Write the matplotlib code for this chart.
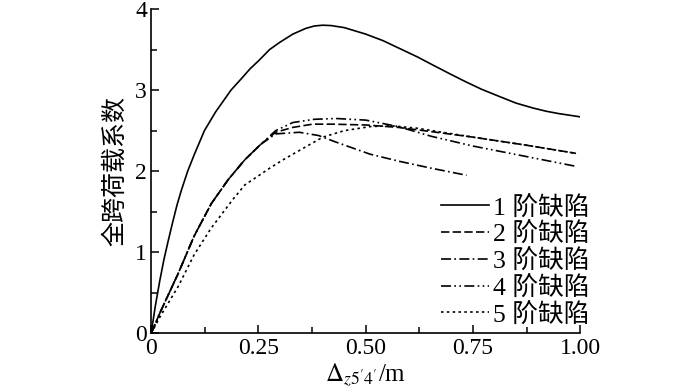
import matplotlib
matplotlib.use('Agg')
import matplotlib.pyplot as plt
from matplotlib.ticker import MultipleLocator

# data
x1 = [0, 0.005, 0.01, 0.02, 0.03, 0.04, 0.05, 0.06, 0.07, 0.085, 0.10, 0.124, 0.15, 0.17, 0.186, 0.21, 0.23,
      0.25, 0.276, 0.30, 0.33, 0.36, 0.38, 0.40, 0.42, 0.45, 0.50, 0.54, 0.58, 0.62, 0.656, 0.70, 0.734,
      0.77, 0.812, 0.85, 0.889, 0.92, 0.95, 0.975, 1.0]
y1 = [0, 0.18, 0.35, 0.65, 0.92, 1.15, 1.37, 1.58, 1.76, 2.0, 2.2, 2.5, 2.73, 2.88, 3.0, 3.14, 3.26,
      3.36, 3.5, 3.59, 3.69, 3.76, 3.79, 3.80, 3.795, 3.77, 3.69, 3.61, 3.51, 3.41, 3.31, 3.19, 3.10,
      3.01, 2.92, 2.84, 2.78, 2.74, 2.71, 2.69, 2.67]

x2 = [0, 0.02, 0.063, 0.10, 0.14, 0.18, 0.218, 0.255, 0.29, 0.33, 0.376, 0.42, 0.50, 0.576, 0.65, 0.75, 0.875, 0.99]
y2 = [0, 0.25, 0.74, 1.2, 1.6, 1.9, 2.14, 2.33, 2.48, 2.54, 2.58, 2.58, 2.57, 2.54, 2.49, 2.42, 2.32, 2.22]

x3 = [0, 0.02, 0.063, 0.10, 0.14, 0.18, 0.218, 0.255, 0.29, 0.345, 0.39, 0.43, 0.51, 0.58, 0.65, 0.735]
y3 = [0, 0.25, 0.74, 1.2, 1.6, 1.9, 2.14, 2.33, 2.46, 2.48, 2.44, 2.36, 2.21, 2.12, 2.04, 1.95]

x4 = [0, 0.02, 0.063, 0.10, 0.14, 0.18, 0.218, 0.255, 0.29, 0.33, 0.38, 0.43, 0.50, 0.576, 0.653, 0.75, 0.875, 0.99]
y4 = [0, 0.25, 0.74, 1.2, 1.6, 1.9, 2.14, 2.33, 2.50, 2.60, 2.64, 2.65, 2.63, 2.55, 2.43, 2.31, 2.18, 2.06]

x5 = [0, 0.02, 0.063, 0.10, 0.14, 0.19, 0.218, 0.277, 0.307, 0.36, 0.40, 0.45, 0.51, 0.56, 0.62, 0.75, 0.875, 0.99]
y5 = [0, 0.2, 0.58, 0.97, 1.30, 1.65, 1.83, 2.04, 2.14, 2.30, 2.42, 2.50, 2.55, 2.56, 2.53, 2.42, 2.32, 2.22]

labels = ['1 阶缺陷', '2 阶缺陷', '3 阶缺陷', '4 阶缺陷', '5 阶缺陷']

plt.rcParams['font.family'] = ['Liberation Serif', 'Noto Sans CJK SC']
plt.rcParams['mathtext.fontset'] = 'stix'

fig = plt.figure(figsize=(7, 3.9), dpi=100)
ax = fig.add_axes([0.216, 0.145, 0.613, 0.832])

lw = 1.2
ax.plot(x1, y1, color='k', lw=lw, ls='-', label=labels[0])
ax.plot(x2, y2, color='k', lw=lw, ls=(0, (5, 2)), label=labels[1])
ax.plot(x3, y3, color='k', lw=lw, ls=(0, (6, 2, 1, 2)), label=labels[2])
ax.plot(x4, y4, color='k', lw=lw, ls=(0, (6, 2, 1, 2, 1, 2)), label=labels[3])
ax.plot(x5, y5, color='k', lw=lw, ls=(0, (1.5, 2)), label=labels[4])

ax.set_xlim(0, 1)
ax.set_ylim(0, 4)
ax.xaxis.set_minor_locator(MultipleLocator(0.125))
ax.yaxis.set_minor_locator(MultipleLocator(0.5))
ax.set_xticks([0, 0.25, 0.5, 0.75, 1.0])
ax.set_xticklabels(['0', '0.25', '0.50', '0.75', '1.00'])
ax.set_yticks([0, 1, 2, 3, 4])
ax.set_yticklabels(['0', '1', '2', '3', '4'])

for s in ['top', 'right']:
    ax.spines[s].set_visible(False)
for s in ['left', 'bottom']:
    ax.spines[s].set_linewidth(1.2)
ax.tick_params(which='both', direction='in', labelsize=17, width=1.1, color='k')
ax.tick_params(which='major', length=6, pad=3)
ax.tick_params(which='minor', length=4)

ax.set_xlabel(r'$\mathit{\Delta}_{z5^{\prime}4^{\prime}}$/m', fontsize=18, labelpad=2)
ax.set_ylabel('全跨荷载系数', fontsize=18, labelpad=6)

leg = ax.legend(loc='lower right', bbox_to_anchor=(0.86, 0.13), bbox_transform=fig.transFigure,
                frameon=False, fontsize=18.5, handlelength=1.85, handletextpad=0.15,
                labelspacing=0.1, borderpad=0)

fig.savefig('out.png', dpi=100)
